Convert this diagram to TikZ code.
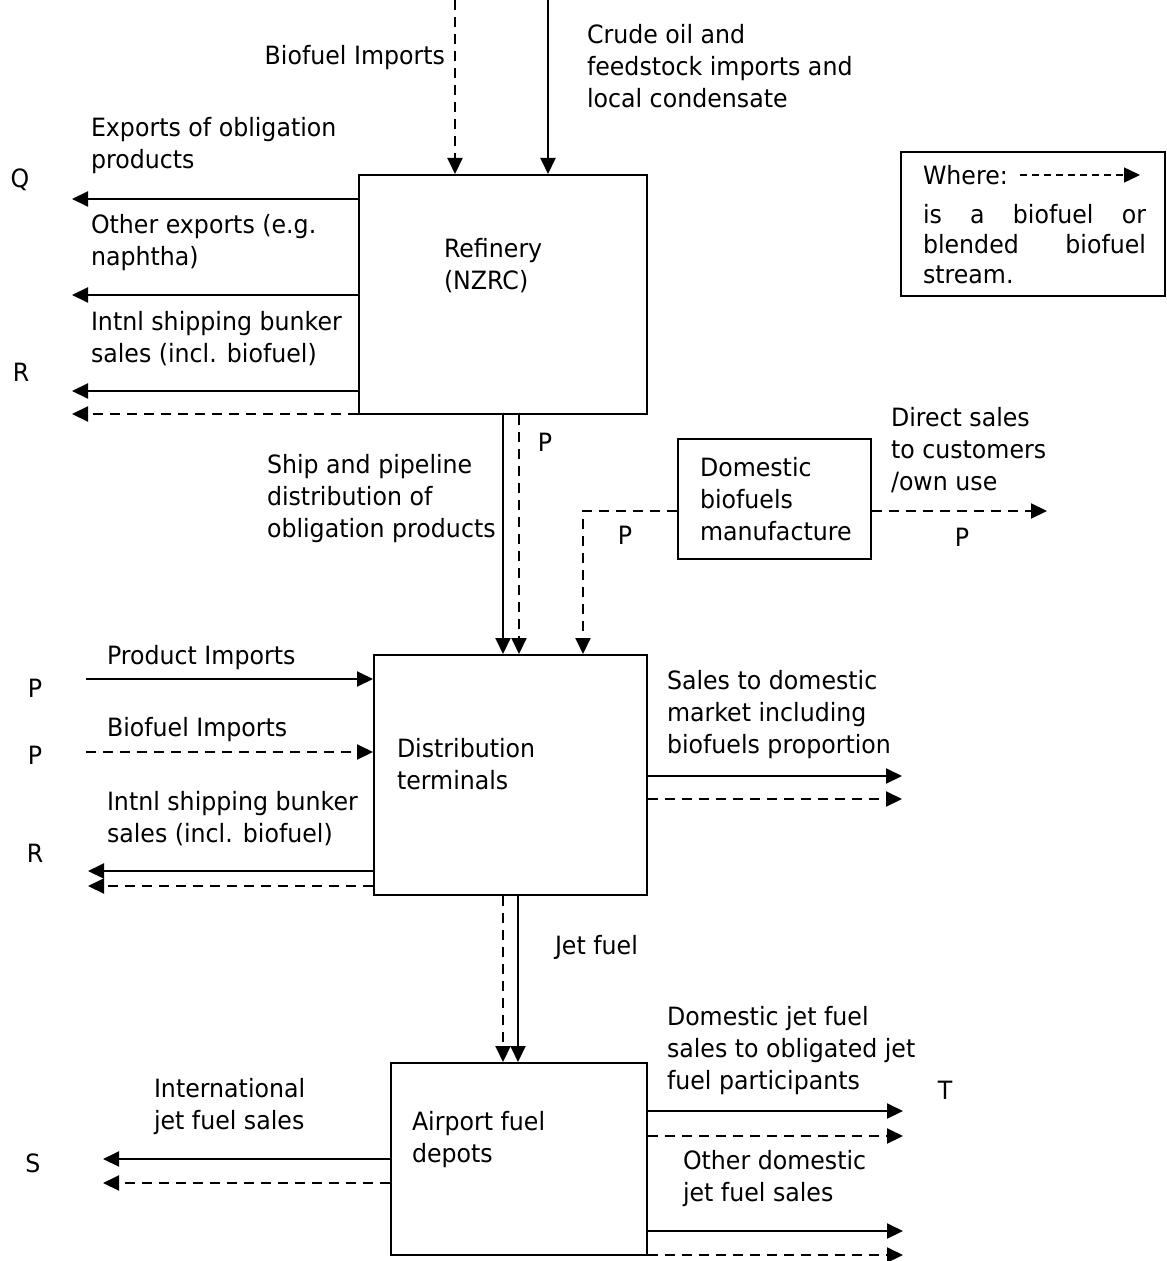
\documentclass[tikz,border=0pt]{standalone}
\usepackage{fontspec}
\setmainfont{DejaVu Sans}[FakeStretch=0.94]
\usetikzlibrary{arrows.meta}

\begin{document}
\begin{tikzpicture}[x=0.5pt,y=-0.5pt,line width=1pt,
  >={Triangle[length=8pt,width=7.5pt]},
  flow/.style={->},
  bio/.style={->,dash pattern=on 5pt off 3.5pt},
  box/.style={draw,inner sep=0pt},
  txt/.style={font=\fontsize{12.6}{16}\selectfont,inner sep=0pt,align=left,anchor=west},
  tag/.style={font=\fontsize{12.6}{16}\selectfont,inner sep=0pt}]
\useasboundingbox (0,0) rectangle (1166,1261);

% boxes
\node[box,minimum width=144pt,minimum height=119.5pt] (ref) at (503,294.5) {};
\node[box,minimum width=96.5pt,minimum height=60pt] (dom) at (774.5,499) {};
\node[box,minimum width=136.5pt,minimum height=120pt] (dist) at (510.5,775) {};
\node[box,minimum width=128pt,minimum height=96pt] (air) at (519,1159) {};
\node[box,line width=0.8pt,minimum width=132pt,minimum height=72pt] (key) at (1033,224) {};

\node[txt] (reftxt) at (443,266) {Refinery\\(NZRC)};
\node[txt] (domtxt) at (699,499) {Domestic\\biofuels\\manufacture};
\node[txt] (disttxt) at (396,764) {Distribution\\terminals};
\node[txt] (airtxt) at (411,1140) {Airport fuel\\depots};

% key
\node[txt] (where) at (922,175) {Where:};
\coordinate (k1) at (1020,175);
\coordinate (k2) at (1140,175);
\draw[->,line width=0.7pt,dash pattern=on 3.5pt off 2.5pt] (k1) -- (k2);
\node[txt,font=\fontsize{12.6}{15}\selectfont] (keytxt) at (922,244)
  {\makebox[111.5pt][l]{is\hfill a\hfill biofuel\hfill or}\\
   \makebox[111.5pt][l]{blended\hfill biofuel}\\stream.};

% into refinery
\coordinate (bioin) at (455,0);
\coordinate (crude) at (548,0);
\draw[bio] (bioin) -- (bioin |- ref.north);
\draw[flow] (crude) -- (crude |- ref.north);
\node[tag,anchor=east] (biolbl) at (446,58) {Biofuel Imports};
\node[txt] (crudelbl) at (586,66) {Crude oil and\\feedstock imports and\\local condensate};

% refinery exports
\coordinate (q1) at (72,199);
\coordinate (q2) at (72,295);
\coordinate (r1) at (72,391);
\coordinate (r2) at (72,414);
\draw[flow] (q1 -| ref.west) -- (q1);
\draw[flow] (q2 -| ref.west) -- (q2);
\draw[flow] (r1 -| ref.west) -- (r1);
\draw[bio] (r2 -| ref.west) -- (r2);
\node[txt] (explbl) at (90,146) {Exports of obligation\\products};
\node[txt] (othlbl) at (90,243) {Other exports (e.g.\\naphtha)};
\node[txt] (bunklbl) at (90,339) {Intnl shipping bunker\\sales (incl. biofuel)};
\node[tag] (Q) at (20,180) {Q};
\node[tag] (R) at (21,372) {R};

% refinery to terminals
\draw[flow] (503,0 |- ref.south) -- (503,0 |- dist.north);
\draw[bio] (519,0 |- ref.south) -- (519,0 |- dist.north);
\node[tag] (p1) at (545,442) {P};
\node[txt] (shiplbl) at (266,499) {Ship and pipeline\\distribution of\\obligation products};

% domestic biofuels
\draw[bio] ([yshift=-6pt]dom.west) -| (583,0 |- dist.north);
\coordinate (direct) at (1047,511);
\draw[bio] (direct -| dom.east) -- (direct);
\node[tag] (p2) at (625,535) {P};
\node[tag] (p3) at (962,537) {P};
\node[txt] (dirlbl) at (890,450) {Direct sales\\to customers\\/own use};

% terminals
\coordinate (pimp) at (86,679);
\coordinate (bimp) at (86,752);
\coordinate (r3) at (88,871);
\coordinate (r4) at (88,886);
\draw[flow] (pimp) -- (pimp -| dist.west);
\draw[bio] (bimp) -- (bimp -| dist.west);
\draw[flow] (r3 -| dist.west) -- (r3);
\draw[bio] (r4 -| dist.west) -- (r4);
\node[txt] (pimplbl) at (106,658) {Product Imports};
\node[txt] (bimplbl) at (106,730) {Biofuel Imports};
\node[txt] (bunk2lbl) at (106,819) {Intnl shipping bunker\\sales (incl. biofuel)};
\node[tag] (p4) at (35,688) {P};
\node[tag] (p5) at (35,755) {P};
\node[tag] (R2) at (35,853) {R};
\coordinate (dom1) at (902,776);
\coordinate (dom2) at (902,799);
\draw[flow] (dom1 -| dist.east) -- (dom1);
\draw[bio] (dom2 -| dist.east) -- (dom2);
\node[txt] (saleslbl) at (666,715) {Sales to domestic\\market including\\biofuels proportion};

% terminals to airport
\draw[bio] (503,0 |- dist.south) -- (503,0 |- air.north);
\draw[flow] (518,0 |- dist.south) -- (518,0 |- air.north);
\node[txt] (jetlbl) at (554,947) {Jet fuel};

% airport
\coordinate (s1) at (103,1159);
\coordinate (s2) at (103,1183);
\draw[flow] (s1 -| air.west) -- (s1);
\draw[bio] (s2 -| air.west) -- (s2);
\node[txt] (intlbl) at (153,1107) {International\\jet fuel sales};
\node[tag] (S) at (33,1163) {S};
\coordinate (t1) at (903,1111);
\coordinate (t2) at (903,1136);
\coordinate (t3) at (903,1231);
\coordinate (t4) at (903,1255);
\draw[flow] (t1 -| air.east) -- (t1);
\draw[bio] (t2 -| air.east) -- (t2);
\draw[flow] (t3 -| air.east) -- (t3);
\draw[bio] (t4 -| air.east) -- (t4);
\node[txt] (djlbl) at (666,1051) {Domestic jet fuel\\sales to obligated jet\\fuel participants};
\node[txt] (odlbl) at (682,1179) {Other domestic\\jet fuel sales};
\node[tag] (T) at (945,1090) {T};
\end{tikzpicture}
\end{document}
